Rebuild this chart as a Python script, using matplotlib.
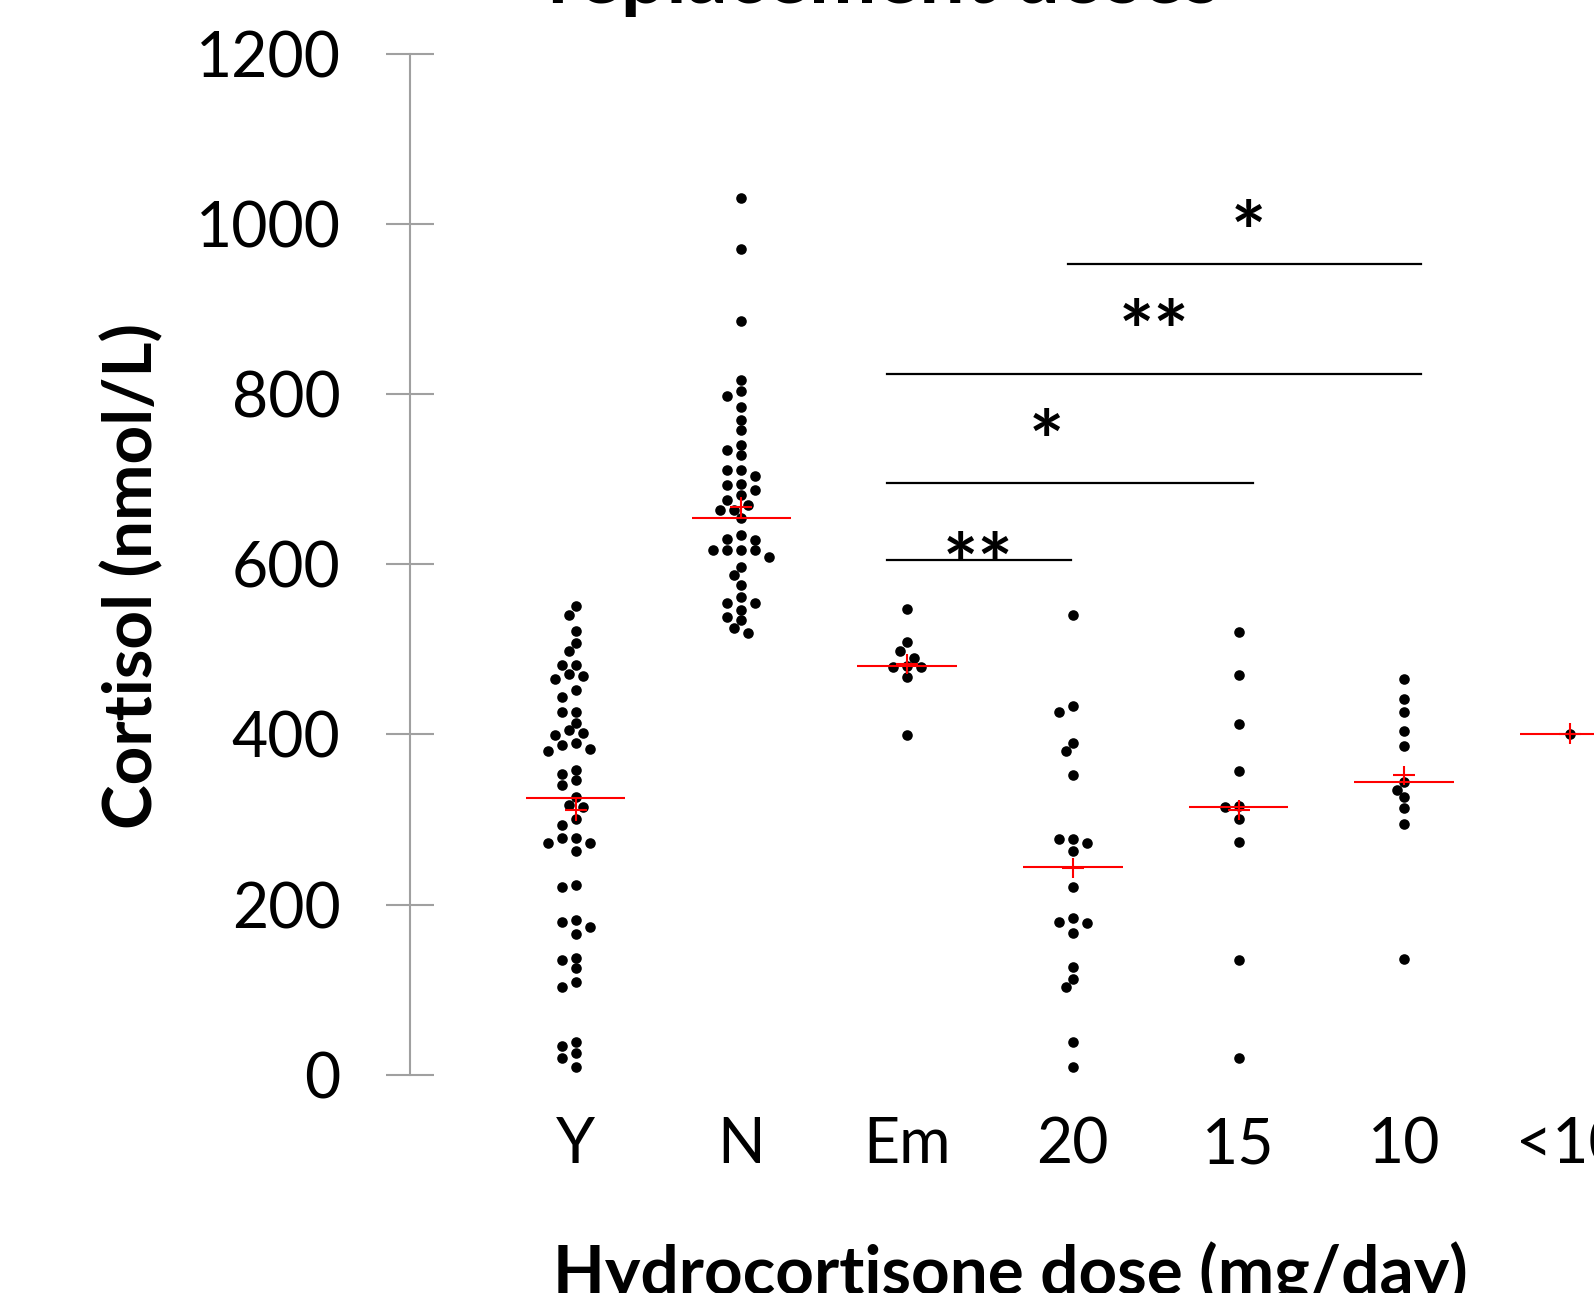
import matplotlib
matplotlib.use('Agg')
import matplotlib.pyplot as plt
import numpy as np

plt.rcParams['font.family'] = ['Lato', 'DejaVu Sans']

# groups on the x axis
grupos = ['Y', 'N', 'Em', '20', '15', '10', '<10']

# cortisol values (nmol/L) read per group
valores_y = [551, 540, 522, 508, 498, 482, 482, 471, 469, 465, 452, 444, 426, 426,
             414, 405, 402, 399, 390, 388, 383, 380, 358, 353, 346, 341, 326, 317,
             315, 301, 293, 278, 278, 272, 272, 263, 223, 221, 182, 180, 174, 165,
             137, 135, 125, 109, 103, 38, 34, 25, 20, 9]
valores_n = [1031, 971, 886, 817, 804, 798, 785, 770, 758, 740, 734, 728, 711, 711,
             704, 695, 693, 687, 681, 676, 670, 664, 664, 654, 634, 630, 629, 617,
             617, 617, 617, 609, 597, 587, 576, 562, 554, 554, 546, 538, 534, 525, 519]
valores_em = [548, 509, 498, 490, 480, 479, 479, 468, 399]
valores_20 = [540, 433, 426, 390, 381, 352, 277, 277, 272, 263, 221, 184, 180, 178,
              166, 126, 112, 103, 38, 9]
valores_15 = [521, 470, 412, 357, 316, 315, 300, 273, 135, 19]
valores_10 = [465, 442, 426, 404, 386, 344, 335, 326, 313, 295, 136]
valores_lt10 = [401]

todos = [valores_y, valores_n, valores_em, valores_20, valores_15, valores_10, valores_lt10]

# long red line and red cross (+ error) per group
medianas = [325, 654, 481, 244, 315, 344, 400]
medias = [311, 667, 483, 243, 311, 352, 401]
errores = [13, 12, 12, 12, 12, 11, 12]

# significance bars
sig_desde = [3.97, 2.88, 2.88, 2.88]
sig_hasta = [6.10, 6.10, 5.09, 3.99]
sig_nivel = [953, 824, 696, 605]
sig_texto = ['*', '**', '*', '**']
estrella_x = [5.06, 4.49, 3.84, 3.43]
estrella_y = [1011, 894, 765, 621]

fig = plt.figure(figsize=(15.94, 12.93), dpi=100)
ax = fig.add_axes([410 / 1594, 0.1689, 1325.6 / 1594, 0.7893])
ax.set_xlim(0, 8)
ax.set_ylim(0, 1200)

x_px = ax.get_position().width * fig.get_figwidth() * fig.dpi / 8
y_px = ax.get_position().height * fig.get_figheight() * fig.dpi / 1200


def enjambre(vals, paso=7.0, diam=10.0):
    # simple beeswarm: nudge sideways until the dot does not touch the others
    puestos = []
    desp = []
    for v in vals:
        yp = v * y_px
        for k in [0, -1, 1, -2, 2, -3, 3, -4, 4, -5, 5, -6, 6]:
            xp = k * paso
            if all((xp - a) ** 2 + (yp - b) ** 2 >= diam ** 2 for a, b in puestos):
                break
        puestos.append((xp, yp))
        desp.append(xp / x_px)
    return np.array(desp)


for i, vals in enumerate(todos):
    xs = i + 1 + enjambre(vals)
    ax.scatter(xs, vals, s=58, color='black', linewidths=0, zorder=2)

posiciones = np.arange(1, len(grupos) + 1)
ax.hlines(medianas, posiciones - 0.3, posiciones + 0.3, color='red', lw=1.5, zorder=3)
ax.errorbar(posiciones, medias, yerr=errores, fmt='_', ms=16, mew=1.5,
            color='red', elinewidth=1.5, capsize=0, zorder=3)

for x0, x1, yy in zip(sig_desde, sig_hasta, sig_nivel):
    ax.plot([x0, x1], [yy, yy], color='black', lw=1.6, zorder=1)
# the asterisk sits high in its line box, so pull it down onto the read centre
for xx, yy, t in zip(estrella_x, estrella_y, sig_texto):
    ax.annotate(t, (xx, yy), xytext=(0, -17), textcoords='offset points',
                ha='center', va='center', fontsize=60, fontweight='bold')

for lado in ['top', 'right', 'bottom']:
    ax.spines[lado].set_visible(False)
ax.spines['left'].set_color('#A0A0A0')
ax.spines['left'].set_linewidth(1.5)

ax.set_yticks(np.arange(0, 1201, 200))
ax.tick_params(axis='y', direction='inout', length=34, width=1.5, color='#A0A0A0',
               labelsize=45, pad=33)
ax.set_xticks(posiciones)
ax.set_xticklabels(grupos)
ax.tick_params(axis='x', length=0, labelsize=45, pad=30)

ax.set_xlabel('Hydrocortisone dose (mg/day)', fontsize=48.5, fontweight='bold')
ax.xaxis.set_label_coords(0.4526, -0.164)
ax.set_ylabel('Cortisol (nmol/L)', fontsize=48.5, fontweight='bold', va='center')
ax.yaxis.set_label_coords(-0.209, 0.4885)

fig.text(884 / 1594, 1 - 3 / 1293, 'replacement doses', ha='center', va='baseline',
         fontsize=58, fontweight='bold')

plt.savefig('out.png', dpi=100)
